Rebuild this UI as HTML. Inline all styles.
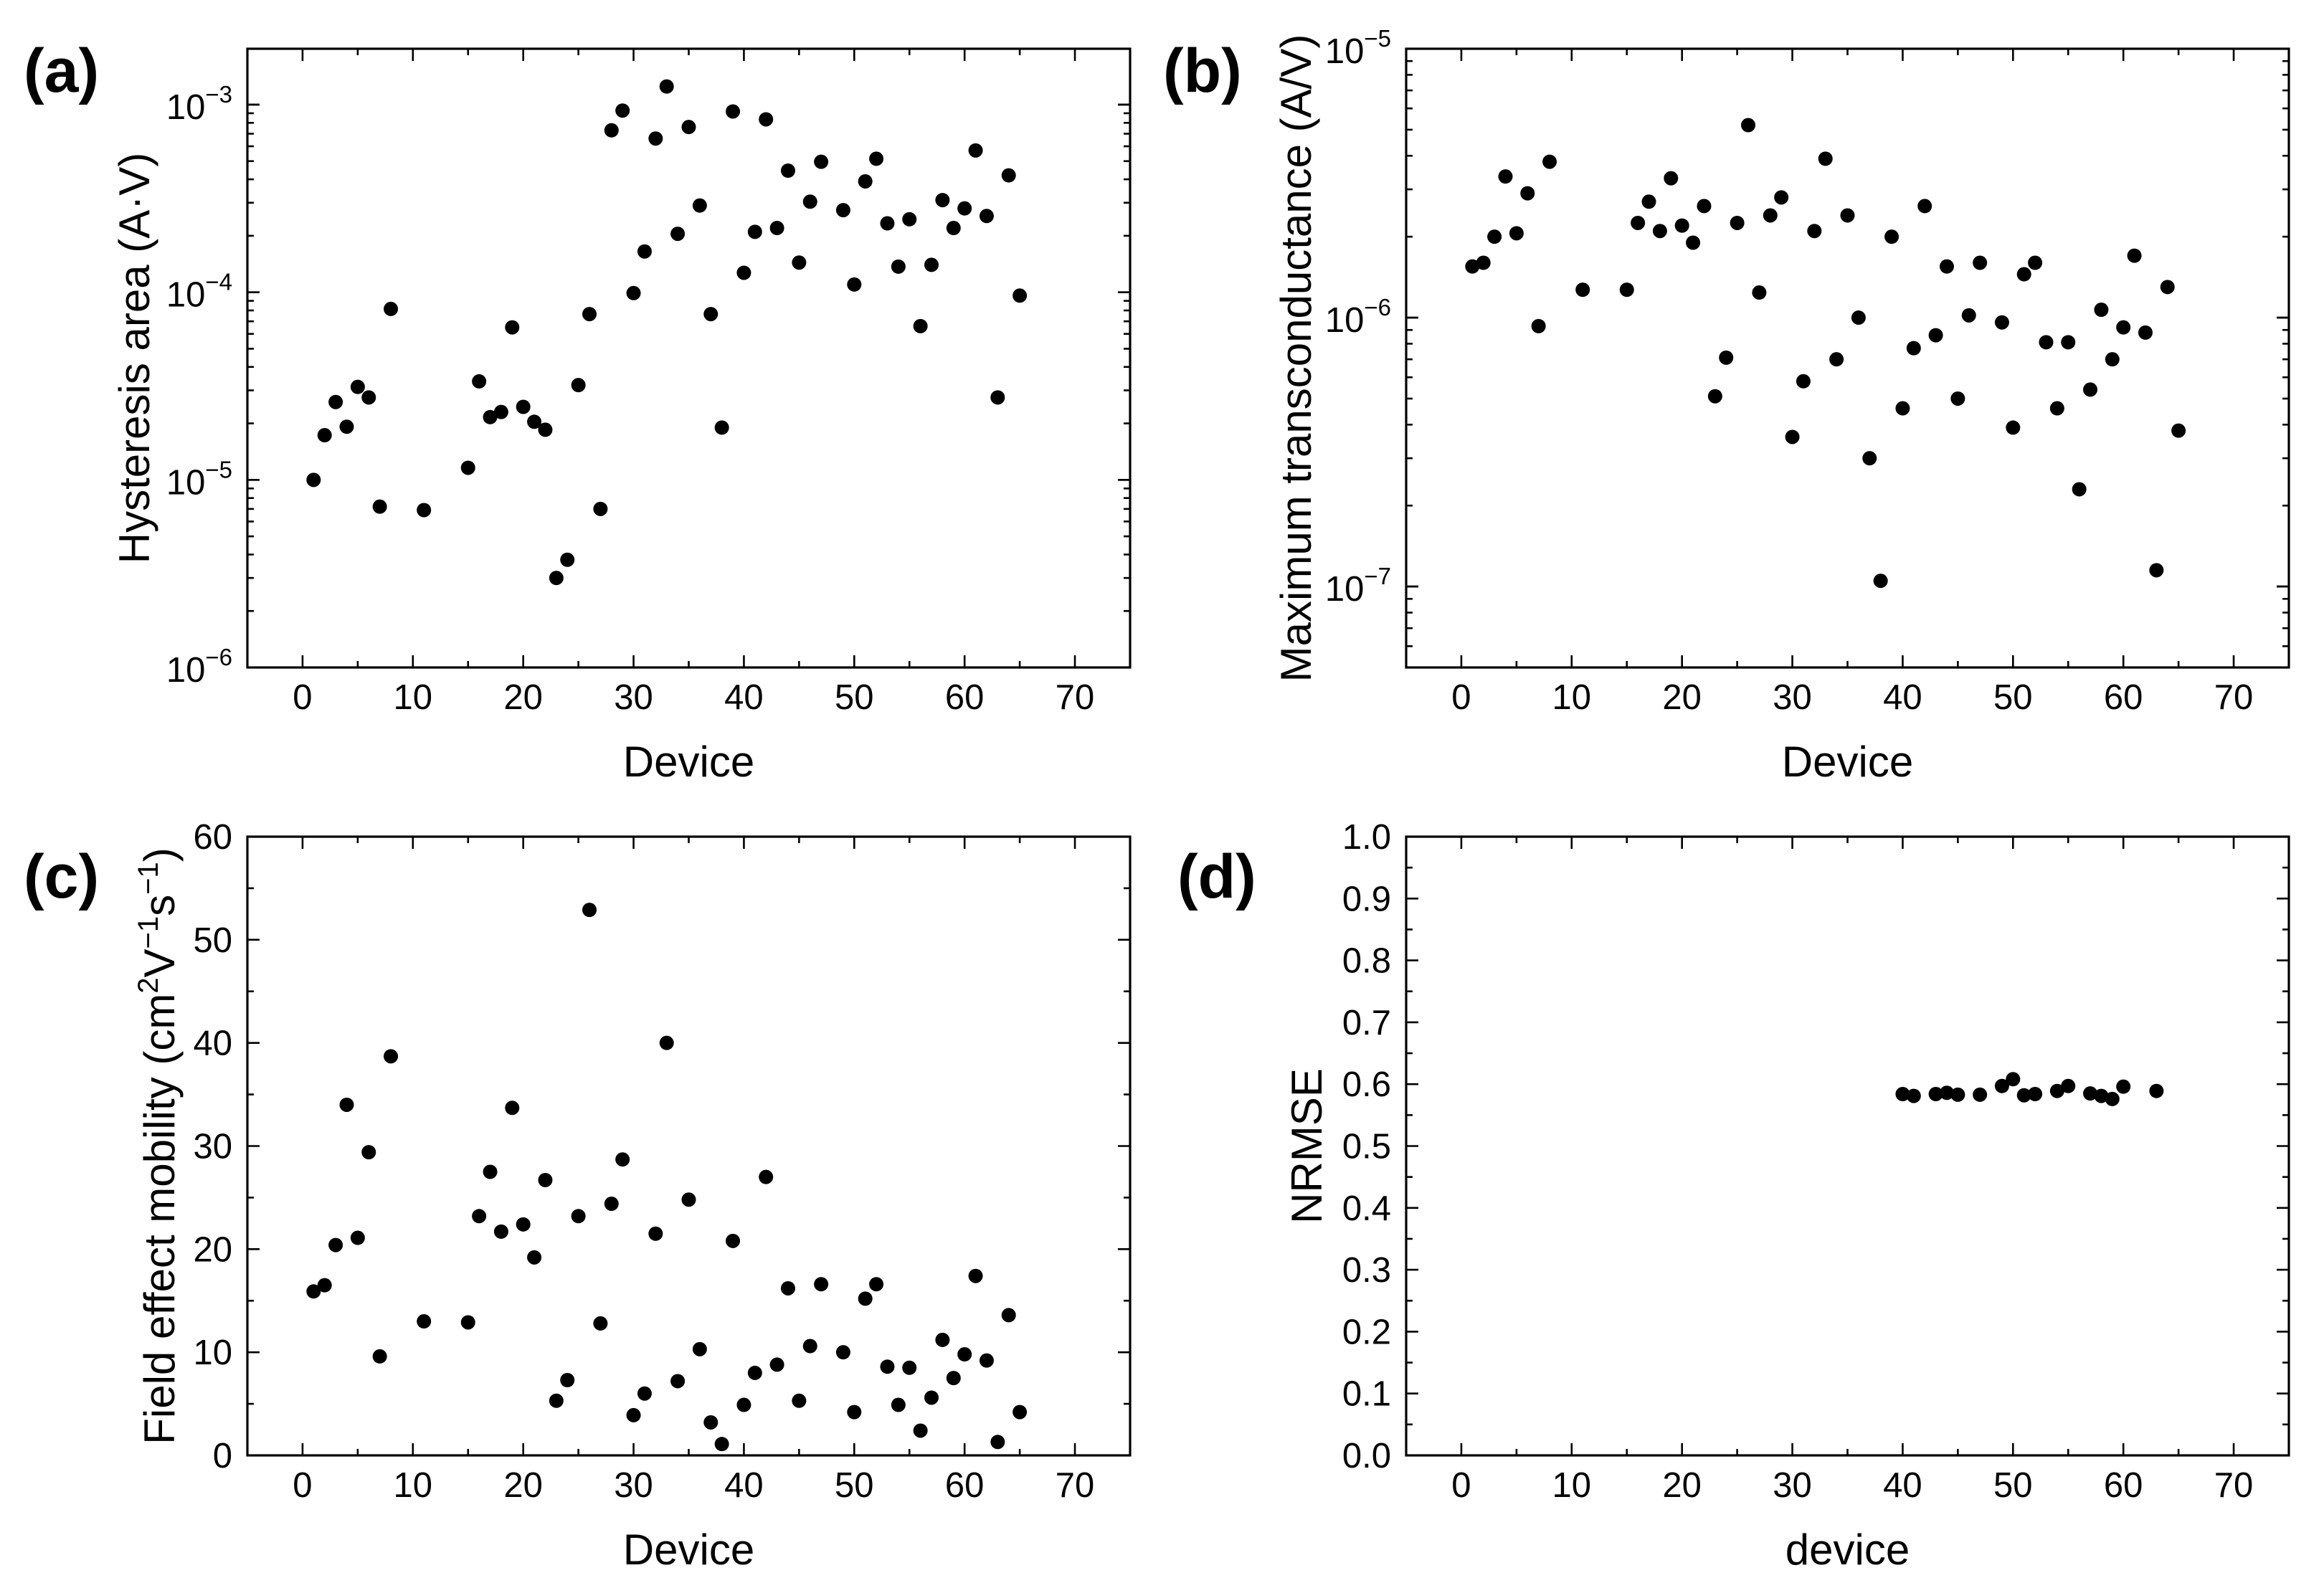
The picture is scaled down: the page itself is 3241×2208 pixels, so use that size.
<!DOCTYPE html>
<html><head><meta charset="utf-8"><style>
html,body{margin:0;padding:0;background:#fff}
svg{display:block}
text{font-family:"Liberation Sans",Arial,sans-serif;fill:#000}
</style></head><body>
<svg id="fig" width="3241" height="2208" viewBox="0 0 3241 2208" xmlns="http://www.w3.org/2000/svg"></svg>
<script>
const devA=[1,2,3,4,5,6,7,8,11,15,16,17,18,19,20,21,22,23,24,25,26,27,28,29,30,31,32,33,34,35,36,37,38,39,40,41,42,43,44,45,46,47,49,50,51,52,53,54,55,56,57,58,59,60,61,62,63,64,65];
const hysteresis=[1.0e-5,1.73e-5,2.6e-5,1.92e-5,3.13e-5,2.75e-5,7.2e-6,8.15e-5,6.9e-6,1.16e-5,3.35e-5,2.16e-5,2.3e-5,6.5e-5,2.45e-5,2.04e-5,1.85e-5,3.0e-6,3.75e-6,3.2e-5,7.65e-5,7.0e-6,7.3e-4,9.3e-4,9.9e-5,1.65e-4,6.6e-4,1.25e-3,2.05e-4,7.6e-4,2.9e-4,7.65e-5,1.9e-5,9.2e-4,1.27e-4,2.1e-4,8.35e-4,2.2e-4,4.45e-4,1.44e-4,3.04e-4,4.96e-4,2.74e-4,1.1e-4,3.9e-4,5.15e-4,2.33e-4,1.37e-4,2.45e-4,6.6e-5,1.4e-4,3.1e-4,2.2e-4,2.8e-4,5.7e-4,2.55e-4,2.75e-5,4.2e-4,9.6e-5];
const transconductance=[1.55e-6,1.6e-6,2.0e-6,3.35e-6,2.06e-6,2.9e-6,9.3e-7,3.8e-6,1.27e-6,1.27e-6,2.25e-6,2.7e-6,2.1e-6,3.3e-6,2.2e-6,1.9e-6,2.6e-6,5.1e-7,7.1e-7,2.25e-6,5.2e-6,1.24e-6,2.4e-6,2.8e-6,3.6e-7,5.8e-7,2.1e-6,3.9e-6,7.0e-7,2.4e-6,1.0e-6,3.0e-7,1.05e-7,2.0e-6,4.6e-7,7.7e-7,2.6e-6,8.6e-7,1.55e-6,5.0e-7,1.02e-6,1.6e-6,9.6e-7,3.9e-7,1.45e-6,1.6e-6,8.1e-7,4.6e-7,8.1e-7,2.3e-7,5.4e-7,1.07e-6,7.0e-7,9.2e-7,1.7e-6,8.8e-7,1.15e-7,1.3e-6,3.8e-7];
const mobility=[15.9,16.5,20.4,34.0,21.1,29.4,9.6,38.7,13.0,12.9,23.2,27.5,21.7,33.7,22.4,19.2,26.7,5.3,7.3,23.2,52.9,12.8,24.4,28.7,3.9,6.0,21.5,40.0,7.2,24.8,10.3,3.2,1.1,20.8,4.9,8.0,27.0,8.8,16.2,5.3,10.6,16.6,10.0,4.2,15.2,16.6,8.6,4.9,8.5,2.4,5.6,11.2,7.5,9.8,17.4,9.2,1.3,13.6,4.2];
const devD=[40,41,43,44,45,47,49,50,51,52,54,55,57,58,59,60,63];
const nrmse=[0.584,0.581,0.584,0.586,0.583,0.583,0.597,0.608,0.582,0.584,0.589,0.597,0.585,0.581,0.576,0.596,0.589];
const xTicks=[0,10,20,30,40,50,60,70];
const logTicksA=[-6,-5,-4,-3];
const logTicksB=[-7,-6,-5];
const linTicksC=[0,10,20,30,40,50,60];
const linTicksD=[0,0.1,0.2,0.3,0.4,0.5,0.6,0.7,0.8,0.9,1.0];

const NS='http://www.w3.org/2000/svg';
const svg=document.getElementById('fig');
function mk(tag,attrs,parent){const e=document.createElementNS(NS,tag);for(const k in attrs)e.setAttribute(k,attrs[k]);(parent||svg).appendChild(e);return e;}

function panel(o){
  const g=mk('g',{});
  
  
  const L=o.L,R=o.R,T=o.T,B=o.B;
  const xs=v=>L+(v-(-5))/80*(R-L);
  const ys=o.log?(v=>B-(Math.log10(v)-o.ymin)/(o.ymax-o.ymin)*(B-T)):(v=>B-(v-o.ymin)/(o.ymax-o.ymin)*(B-T));
  const yl=v=>B-(v-o.ymin)/(o.ymax-o.ymin)*(B-T);
  const SW=2.6;
  const fr=mk('rect',{x:L,y:T,width:R-L,height:B-T,fill:'none',stroke:'#000','stroke-width':3.2},g);
  
  
  for(let v=-5;v<=75;v+=5){const x=xs(v);const len=(v%10===0)?17:9;
    mk('line',{x1:x,y1:B,x2:x,y2:B-len,stroke:'#000','stroke-width':SW},g);
    mk('line',{x1:x,y1:T,x2:x,y2:T+len,stroke:'#000','stroke-width':SW},g);}
  xTicks.forEach(v=>{const t=mk('text',{x:xs(v),y:B+58,'font-size':49,'text-anchor':'middle'},g);t.textContent=v;
    });
  if(o.log){
    for(let d=Math.floor(o.ymin);d<o.ymax;d++){for(let m=1;m<10;m++){const lv=d+Math.log10(m);if(lv<o.ymin-1e-9||lv>o.ymax+1e-9)continue;const y=yl(lv);const len=m===1?17:9;
      mk('line',{x1:L,y1:y,x2:L+len,y2:y,stroke:'#000','stroke-width':SW},g);
      mk('line',{x1:R,y1:y,x2:R-len,y2:y,stroke:'#000','stroke-width':SW},g);}}
    o.yt.forEach(p=>{const y=yl(p);
      mk('line',{x1:L,y1:y,x2:L+17,y2:y,stroke:'#000','stroke-width':SW},g);
      mk('line',{x1:R,y1:y,x2:R-17,y2:y,stroke:'#000','stroke-width':SW},g);
      const t=mk('text',{x:L-21,y:y+20,'font-size':49,'text-anchor':'end'},g);
      
      const a=mk('tspan',{},t);a.textContent='10';
      const b=mk('tspan',{'font-size':33,dy:-23},t);b.textContent='\u2212'+(-p);});
  } else {
    const step=o.minor;
    for(let v=o.ymin;v<=o.ymax+1e-9;v+=step){const y=yl(v);const k=Math.round(v/step);const len=(k%2===0)?17:9;
      mk('line',{x1:L,y1:y,x2:L+len,y2:y,stroke:'#000','stroke-width':SW},g);
      mk('line',{x1:R,y1:y,x2:R-len,y2:y,stroke:'#000','stroke-width':SW},g);}
    o.yt.forEach(p=>{const y=yl(p);const t=mk('text',{x:L-21,y:y+17,'font-size':49,'text-anchor':'end'},g);
      t.textContent=o.fmt?p.toFixed(1):p;});
  }
  const xt=mk('text',{x:(L+R)/2,y:B+152,'font-size':60,'text-anchor':'middle'},g);xt.textContent=o.xlabel;
  
  const yt=mk('text',{x:0,y:0,'font-size':60,'text-anchor':'middle',transform:`translate(${o.ytx},${(T+B)/2}) rotate(-90)`},g);
  
  o.ylabel(yt);
  const pl=mk('text',{x:o.plx,y:o.ply,'font-size':86,'font-weight':'bold'},g);pl.textContent=o.tag;
  
  o.xd.forEach((d,i)=>{const c=mk('circle',{cx:xs(d),cy:ys(o.yd[i]),r:10,fill:'#000'},g);
    
    });
}
function plain(s){return t=>{t.textContent=s;};}

panel({name:'panel-a-hysteresis',L:345,R:1576,T:68,B:931,log:true,ymin:-6,ymax:-2.702,yt:logTicksA,xd:devA,yd:hysteresis,
  xlabel:'Device',ytx:208,ylabel:plain('Hysteresis area (A\u00b7V)'),tag:'(a)',plx:33,ply:128});
panel({name:'panel-b-transconductance',L:1961,R:3192,T:68,B:931,log:true,ymin:-7.301,ymax:-5,yt:logTicksB,xd:devA,yd:transconductance,
  xlabel:'Device',ytx:1828,ylabel:plain('Maximum transconductance (A/V)'),tag:'(b)',plx:1622,ply:128});
panel({name:'panel-c-mobility',L:345,R:1576,T:1167,B:2030,log:false,ymin:0,ymax:60,minor:5,yt:linTicksC,xd:devA,yd:mobility,
  xlabel:'Device',ytx:243,tag:'(c)',plx:33,ply:1252,ylabel:t=>{
    const parts=[['Field effect mobility (cm',0],['2',1],['V',0],['\u22121',1],['s',0],['\u22121',1],[')',0]];
    let up=false;parts.forEach(([s,sup])=>{const sp=document.createElementNS(NS,'tspan');
      if(sup&&!up){sp.setAttribute('dy',-23);sp.setAttribute('font-size',40);up=true;}
      else if(sup){sp.setAttribute('font-size',40);}
      else if(!sup&&up){sp.setAttribute('dy',23);up=false;}
      sp.textContent=s;t.appendChild(sp);});}});
panel({name:'panel-d-nrmse',L:1961,R:3192,T:1167,B:2030,log:false,ymin:0,ymax:1,minor:0.05,fmt:true,yt:linTicksD,xd:devD,yd:nrmse,
  xlabel:'device',ytx:1843,ylabel:plain('NRMSE'),tag:'(d)',plx:1642,ply:1252});
</script>
</body></html>
